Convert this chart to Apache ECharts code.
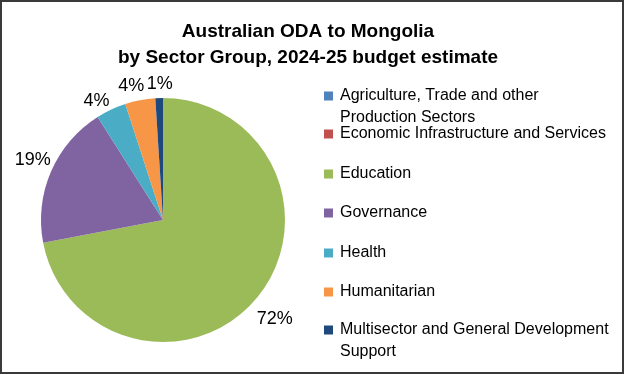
<!DOCTYPE html>
<html>
<head>
<meta charset="utf-8">
<script src="https://cdn.jsdelivr.net/npm/echarts@6/dist/echarts.min.js"></script>
<style>
  html, body { margin: 0; padding: 0; background: #fff; }
  #chart { width: 625px; height: 375px; }
</style>
</head>
<body>
<div id="chart"></div>
<script>
const sectors = [
  'Agriculture, Trade and other Production Sectors',
  'Economic Infrastructure and Services',
  'Education',
  'Governance',
  'Health',
  'Humanitarian',
  'Multisector and General Development Support'
];
const shares = [0, 0, 72, 19, 4, 4, 1];
const legendLabels = [
  'Agriculture, Trade and other\nProduction Sectors',
  'Economic Infrastructure and Services',
  'Education',
  'Governance',
  'Health',
  'Humanitarian',
  'Multisector and General Development\nSupport'
];

const colors = ['#4F81BD', '#C0504D', '#9BBB59', '#8064A2', '#4BACC6', '#F79646', '#1F497D'];
const font = 'Liberation Sans, Arial, sans-serif';

// centre of the first text line for each legend entry
const legendY = [95, 133, 173, 212, 252, 291, 329];
const lineH = 22;
// how far each percentage label sits outside the pie edge, plus a small nudge
const labelGap = [14, 14, 27, 22, 13, 16, 14];
const labelNudge = [[0, 0], [0, 0], [-3, 4], [2, -3], [-9, 3], [-6, 2], [1, 0]];

const myChart = echarts.init(document.getElementById('chart'));

const legends = sectors.map((name, i) => {
  const twoLines = legendLabels[i].indexOf('\n') >= 0;
  // a blank first line keeps the marker level with the first line of text
  const txt = twoLines ? '\n' + legendLabels[i] : legendLabels[i];
  return {
    orient: 'vertical',
    left: 324,
    top: twoLines ? legendY[i] - lineH * 1.5 + 1 : legendY[i] - lineH / 2 + 1,
    padding: 0,
    itemWidth: 9,
    itemHeight: 9,
    icon: 'rect',
    selectedMode: false,
    data: [name],
    formatter: () => txt,
    textStyle: {
      fontFamily: font,
      fontSize: 16,
      color: '#000',
      lineHeight: lineH,
      padding: [0, 0, 0, 2]
    }
  };
});

const option = {
  animation: false,
  color: colors,
  title: {
    text: 'Australian ODA to Mongolia\nby Sector Group, 2024-25 budget estimate',
    left: 303,
    textAlign: 'center',
    top: 14,
    textStyle: {
      fontFamily: font,
      fontSize: 19,
      fontWeight: 'bold',
      color: '#000',
      lineHeight: 26
    }
  },
  legend: legends,
  graphic: [{
    type: 'rect',
    shape: { x: 1, y: 1, width: 622, height: 372 },
    style: { fill: 'none', stroke: '#3a3a3a', lineWidth: 2 },
    silent: true
  }],
  series: [{
    type: 'pie',
    center: [163, 220],
    radius: 122,
    startAngle: 90,
    clockwise: true,
    avoidLabelOverlap: false,
    label: {
      show: true,
      position: 'outside',
      distanceToLabelLine: 0,
      fontFamily: font,
      fontSize: 18,
      color: '#000',
      formatter: p => p.value > 0 ? Math.round(p.percent) + '%' : ''
    },
    labelLine: { show: false, length: 20, length2: 0 },
    labelLayout: p => ({
      align: 'center',
      verticalAlign: 'middle',
      hideOverlap: false,
      dx: labelNudge[p.dataIndex][0],
      dy: labelNudge[p.dataIndex][1]
    }),
    emphasis: { disabled: true },
    data: sectors.map((name, i) => ({
      name: name,
      value: shares[i],
      labelLine: { length: labelGap[i] }
    }))
  }]
};

myChart.setOption(option);
</script>
</body>
</html>
